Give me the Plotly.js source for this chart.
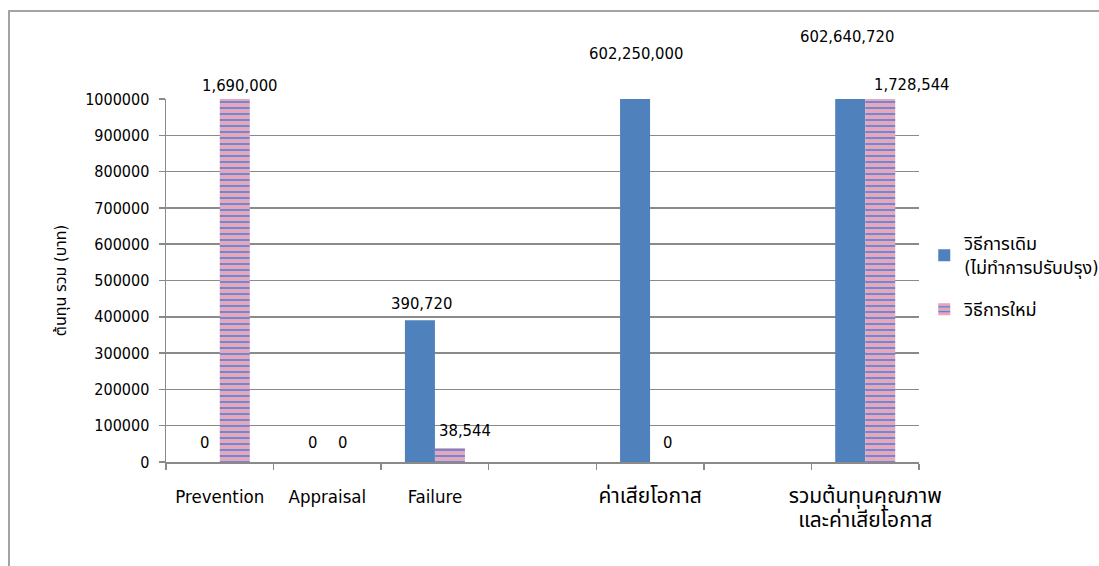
<!DOCTYPE html>
<html>
<head>
<meta charset="utf-8">
<script src="https://cdn.plot.ly/plotly-3.0.1.min.js"></script>
<style>
  html, body { margin: 0; padding: 0; background: #fff; }
  #wrap { position: relative; width: 1099px; height: 566px; overflow: hidden; }
  #chart { position: absolute; left: 0; top: 0; width: 1099px; height: 566px; }
  #frame { position: absolute; left: 8px; top: 10px; width: 1200px; height: 700px;
           border-left: 2px solid #a3a3a3; border-top: 2px solid #a3a3a3; pointer-events: none; }
</style>
</head>
<body>
<div id="wrap">
  <div id="chart"></div>
  <div id="frame"></div>
</div>
<script>
// Cost categories (two blank slots separate the groups)
const categories = ['Prevention', 'Appraisal', 'Failure', ' ', 'ค่าเสียโอกาส', '  ',
                    'รวมต้นทุนคุณภาพ<br>และค่าเสียโอกาส'];

// Series names
const seriesNames = ['วิธีการเดิม<br>(ไม่ทำการปรับปรุง)', 'วิธีการใหม่'];

// Costs in baht
const oldMethod = [0, 0, 390720, null, 602250000, null, 602640720];
const newMethod = [1690000, 0, 38544, null, 0, null, 1728544];

// Axis
const yMax = 1000000;
const yTicks = [0, 100000, 200000, 300000, 400000, 500000, 600000, 700000, 800000, 900000, 1000000];
const yTitle = 'ต้นทุน รวม (บาท)';

// Label placement tweaks (pixels), per series and category
const labelDX = [[0, 0, 1.5, 0, 0.5, 0, -3.5], [5, 0, 15.5, 0, 2.5, 0, 32]];
const labelDY = [[20, 20, 17, 0, 46, 0, 63], [14, 20, 18, 0, 20, 0, 15]];

const FONT = '"DejaVu Sans Condensed", "DejaVu Sans", "Noto Sans Thai", "Noto Sans", sans-serif';
const GRID = '#8a8a8a';

// Thai script runs a little small next to Latin glyphs, so give it its own size
const hasThai = s => /[\u0E00-\u0E7F]/.test(s);
const thaiSized = (s, px) => hasThai(s)
  ? s.split('<br>').map(t => '<span style="font-size:' + px + 'px">' + t + '</span>').join('<br>')
  : s;

const traces = [
  {
    type: 'bar', name: seriesNames[0], x: categories, y: oldMethod,
    legendgroup: 'old',
    marker: { color: '#4F81BD' }, hoverinfo: 'skip'
  },
  {
    type: 'bar', name: seriesNames[1], x: categories, y: newMethod,
    legendgroup: 'new',
    marker: {
      color: '#e9a6b7',
      pattern: { shape: '-', fgcolor: '#3f7fe6', bgcolor: '#e9a6b7', size: 6, solidity: 0.25 }
    },
    hoverinfo: 'skip'
  }
];

const series = [oldMethod, newMethod];
const groupOffset = [-15, 15];
const annotations = [];
series.forEach((vals, s) => {
  vals.forEach((v, i) => {
    if (v === null) return;
    annotations.push({
      x: categories[i], y: Math.min(v, yMax), xref: 'x', yref: 'y',
      text: v.toLocaleString('en-US'), showarrow: false,
      xanchor: 'center', yanchor: 'middle',
      xshift: groupOffset[s] + labelDX[s][i], yshift: labelDY[s][i],
      font: { family: FONT, size: 16.5, color: '#000' }
    });
  });
});

const layout = {
  width: 1099, height: 566,
  margin: { l: 166, r: 180, t: 99, b: 104, pad: 0, autoexpand: false },
  paper_bgcolor: '#fff', plot_bgcolor: '#fff',
  barmode: 'group', bargap: 0.442, bargroupgap: 0,
  font: { family: FONT, size: 16, color: '#000' },
  showlegend: true,
  legend: {
    xref: 'container', yref: 'container',
    x: 0.841, y: 0.602, xanchor: 'left', yanchor: 'top',
    font: { family: FONT, size: 18, color: '#000' },
    bgcolor: 'rgba(0,0,0,0)', traceorder: 'grouped', tracegroupgap: 16
  },
  xaxis: {
    type: 'category', categoryorder: 'array', categoryarray: categories,
    range: [-0.5, categories.length - 0.5],
    tickmode: 'array', tickvals: categories, ticktext: categories.map(c => thaiSized(c, 21)),
    showline: true, linecolor: GRID, linewidth: 2,
    ticks: 'outside', tickson: 'boundaries', ticklen: 6, tickcolor: GRID, tickwidth: 1.5,
    tickfont: { family: FONT, size: 18.5, color: '#000' },
    tickangle: 0, ticklabelstandoff: 17,
    showgrid: false, zeroline: false, fixedrange: true, automargin: false
  },
  yaxis: {
    range: [0, yMax], tickvals: yTicks, tickformat: 'd',
    showline: true, linecolor: GRID, linewidth: 1.5,
    ticks: 'outside', ticklen: 6, tickcolor: GRID, tickwidth: 1.5,
    tickfont: { family: FONT, size: 16, color: '#000' },
    ticklabelstandoff: 6,
    showgrid: true, gridcolor: GRID, gridwidth: 1.5, zeroline: false,
    title: { text: yTitle, font: { family: FONT, size: 16, color: '#000' }, standoff: 14 },
    fixedrange: true, automargin: false
  },
  annotations: annotations
};

Plotly.newPlot('chart', traces, layout, { displayModeBar: false, staticPlot: true });
</script>
</body>
</html>
